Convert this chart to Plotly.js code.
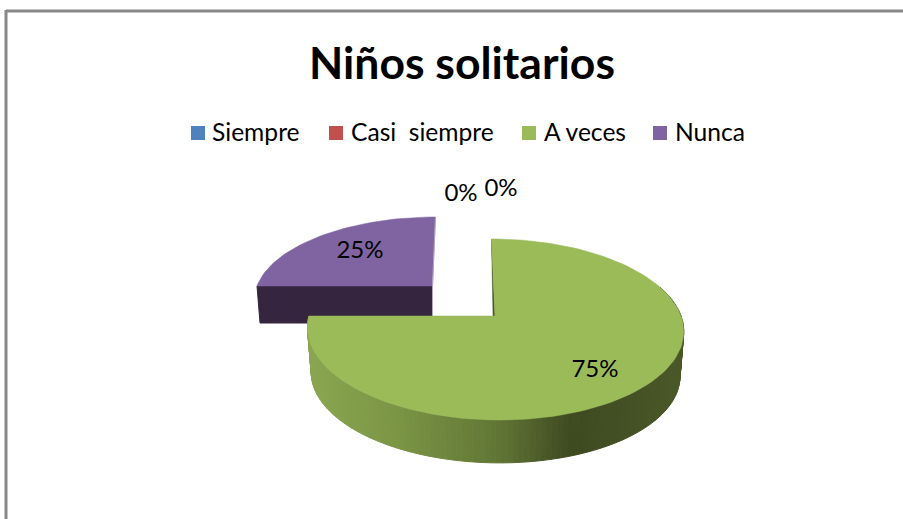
<!DOCTYPE html>
<html><head><meta charset="utf-8">
<script src="https://cdn.plot.ly/plotly-3.0.1.min.js"></script>
<style>html,body{margin:0;padding:0;background:#fff}</style></head>
<body><div id="chart" style="width:903px;height:519px"></div>
<script>
const titleText = "Niños solitarios";
const categories = ["Siempre", "Casi  siempre", "A veces", "Nunca"];
const values = [0, 0, 75, 25];
const colors = ["#4f81bd", "#c0504d", "#9bbb59", "#8064a2"];
const legendMarkerX = [198, 336, 529, 660];
const legendTextX = [212, 351, 544, 675];
const labelX = [461, 501, 595, 360];
const labelY = [195, 190, 371, 252];

const FONT = "Lato, sans-serif";
const K = 0.149;
const total = values.reduce((a, b) => a + b, 0);
const rad = d => d * Math.PI / 180;
function pt(g, deg) {
  const u = Math.sin(rad(deg)), v = Math.cos(rad(deg)), w = 1 + K * v;
  return [g.cx + g.a * u / w + g.sx * v / w, g.cy - g.b * v / w];
}
function arc(g, from, to) {
  const out = [], n = Math.max(2, Math.round(Math.abs(to - from) / 2));
  for (let i = 0; i <= n; i++) out.push(pt(g, from + (to - from) * i / n));
  return out;
}
const greenTop = {cx: 495, cy: 316, a: 186, b: 88.5, sx: -4};
const greenBot = {cx: 495, cy: 361, a: 182.3, b: 86.7, sx: -4};
const purpleTop = {cx: 432.5, cy: 286, a: 175.5, b: 79.3, sx: 3.4};

function poly(points, fill, line, width) {
  const xs = points.map(p => p[0]).concat(points[0][0]);
  const ys = points.map(p => p[1]).concat(points[0][1]);
  return {type: "scatter", mode: "lines", x: xs, y: ys, fill: "toself", fillcolor: fill,
    line: {color: line || fill, width: width === undefined ? 1 : width},
    hoverinfo: "skip", showlegend: false};
}
const wallStops = [[308, [138,166,80]], [400, [122,148,68]], [500, [96,117,53]], [572, [62,73,32]], [684, [74,88,40]]];
function wallColor(x) {
  for (let i = 1; i < wallStops.length; i++) {
    if (x <= wallStops[i][0]) {
      const [x0, c0] = wallStops[i - 1], [x1, c1] = wallStops[i];
      const t = Math.max(0, (x - x0) / (x1 - x0));
      return "rgb(" + c0.map((c, j) => Math.round(c + (c1[j] - c) * t)).join(",") + ")";
    }
  }
  return "rgb(74,88,40)";
}

const traces = [];
const greenSweep = values[2] / total * 360;
const purpleSweep = values[3] / total * 360;

const pLeft = pt(purpleTop, greenSweep), pTopPt = pt(purpleTop, greenSweep + purpleSweep);
const DEPTH_P = 37;
traces.push(poly([pLeft, [pLeft[0] + 3, pLeft[1] + DEPTH_P], [purpleTop.cx, purpleTop.cy + DEPTH_P], [purpleTop.cx, purpleTop.cy]], "#35253f"));
traces.push(poly([[purpleTop.cx, purpleTop.cy]].concat(arc(purpleTop, greenSweep, greenSweep + purpleSweep)), colors[3], colors[3], 0.5));
traces.push({type: "scatter", mode: "lines", x: [pTopPt[0], purpleTop.cx, purpleTop.cx], y: [pTopPt[1], purpleTop.cy, purpleTop.cy + 30],
  line: {color: "#b3a6c6", width: 1}, hoverinfo: "skip", showlegend: false});

for (let d = 70; d < greenSweep; d += 1.5) {
  const e = Math.min(d + 1.5, greenSweep);
  const quad = [pt(greenTop, d), pt(greenTop, e), pt(greenBot, e), pt(greenBot, d)];
  traces.push(poly(quad, wallColor((quad[0][0] + quad[1][0]) / 2)));
}
const gTopPt = pt(greenTop, 0);
traces.push(poly([gTopPt, [greenTop.cx - 2, greenTop.cy], [greenTop.cx, greenTop.cy]], "#4a5827", "#4a5827", 0.5));
traces.push(poly([[greenTop.cx, greenTop.cy]].concat(arc(greenTop, 0, greenSweep)), colors[2], colors[2], 0.5));

traces.push({type: "scatter", mode: "text", x: labelX, y: labelY,
  text: values.map(v => Math.round(v / total * 100) + "%"), textposition: "middle center",
  textfont: {family: FONT, size: 24, color: "#000"}, hoverinfo: "skip", showlegend: false});

categories.forEach((c, i) => {
  traces.push({type: "scatter", mode: "markers", name: c, x: [legendMarkerX[i]], y: [133],
    marker: {symbol: "square", size: 14, color: colors[i]}, hoverinfo: "skip", showlegend: false});
  traces.push({type: "scatter", mode: "text", x: [legendTextX[i]], y: [135], text: [c],
    textposition: "middle right", textfont: {family: FONT, size: 24.6, color: "#000"}, hoverinfo: "skip", showlegend: false});
});

const hidden = {visible: false, fixedrange: true, showgrid: false, zeroline: false};
const layout = {
  width: 903, height: 519, autosize: false,
  margin: {l: 0, r: 0, t: 0, b: 0},
  paper_bgcolor: "#fff", plot_bgcolor: "#fff", showlegend: false,
  title: {text: "<b>" + titleText + "</b>", x: 462 / 903, xanchor: "center", y: 1 - 63.5 / 519, yanchor: "middle",
    font: {family: FONT, size: 44.5, color: "#000"}},
  xaxis: Object.assign({range: [0, 903]}, hidden),
  yaxis: Object.assign({range: [519, 0]}, hidden),
  shapes: [
    {type: "line", xref: "x", yref: "y", x0: 6, x1: 903, y0: 11, y1: 11, line: {color: "#888888", width: 3}},
    {type: "line", xref: "x", yref: "y", x0: 6, x1: 6, y0: 10, y1: 519, line: {color: "#888888", width: 3}}
  ]
};
Plotly.newPlot("chart", traces, layout, {displayModeBar: false, staticPlot: true});
</script></body></html>
